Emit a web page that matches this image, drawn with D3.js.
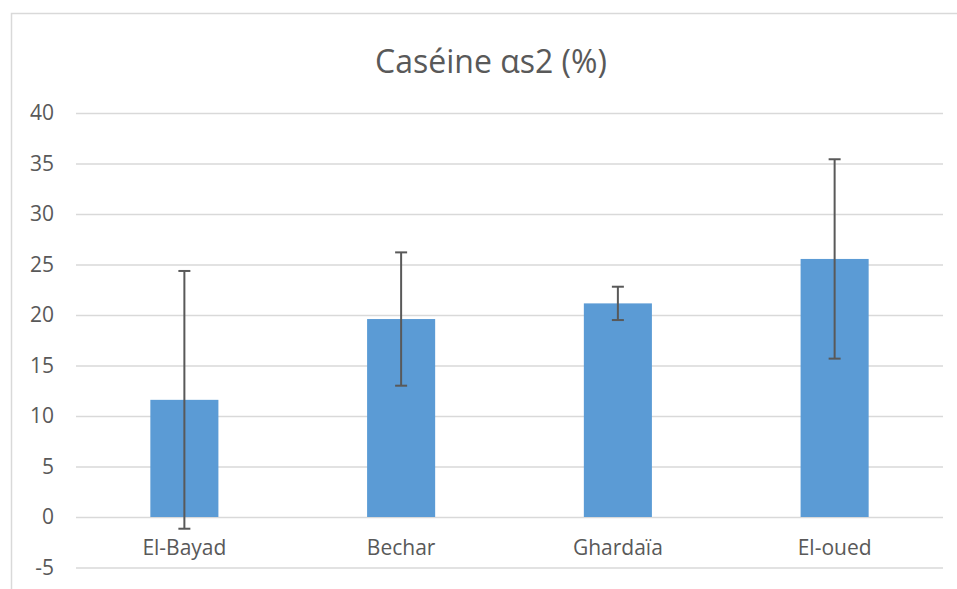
<!DOCTYPE html>
<html>
<head>
	<meta charset="utf-8">
	<style type="text/css">
		body{
			margin: 0;
			background-color: white;
		}
		svg text{
			font-family: 'Open Sans', sans-serif;
			fill: #595959;
		}
	</style>
	<title>Caséine αs2</title>
	<script src="https://cdn.jsdelivr.net/npm/d3@7"></script>
</head>
<body>
	<div id="chart"></div>

	<script type="text/javascript">
		const regions = ['El-Bayad', 'Bechar', 'Ghardaïa', 'El-oued'];
		const means = [11.6, 19.6, 21.15, 25.55];
		const errors = [12.76, 6.6, 1.65, 9.87];
		const yTicks = [-5, 0, 5, 10, 15, 20, 25, 30, 35, 40];

		const [w, h] = [957, 589];
		const [padL, padR, padT, padB] = [76, 943, 113, 567.5];

		const svg = d3.select('#chart')
			.append('svg')
			.attr('width', w)
			.attr('height', h);

		// chart frame
		svg.append('rect')
			.attr('x', 11.5)
			.attr('y', 13.5)
			.attr('width', 1000)
			.attr('height', 1000)
			.attr('fill', 'white')
			.attr('stroke', '#d9d9d9')
			.attr('stroke-width', 1.5);

		const xScale = d3.scaleBand()
			.domain(regions)
			.range([padL, padR])
			.padding(0);
		const yScale = d3.scaleLinear()
			.domain([-5, 40])
			.range([padB, padT]);

		const barW = xScale.bandwidth() * 0.314;

		// gridlines + y labels
		const yAxis = d3.axisLeft(yScale)
			.tickValues(yTicks)
			.tickFormat(d => String(d))
			.tickSize(-(padR - padL))
			.tickPadding(22);
		svg.append('g')
			.attr('id', 'y-axis')
			.attr('transform', `translate(${padL},0)`)
			.call(yAxis)
			.call(g => g.select('.domain').remove())
			.call(g => g.selectAll('.tick line')
				.attr('stroke', '#d9d9d9')
				.attr('stroke-width', 1.5))
			.call(g => g.selectAll('.tick text')
				.attr('font-size', 21)
				.attr('fill', '#595959'));

		svg.selectAll('.bar')
			.data(regions)
			.enter()
			.append('rect')
			.attr('class', 'bar')
			.attr('x', d => xScale(d) + (xScale.bandwidth() - barW) / 2)
			.attr('width', barW)
			.attr('y', (d, i) => yScale(means[i]))
			.attr('height', (d, i) => yScale(0) - yScale(means[i]))
			.attr('fill', '#5b9bd5');

		// error bars
		const eb = svg.selectAll('.err')
			.data(regions)
			.enter()
			.append('g')
			.attr('class', 'err')
			.attr('stroke', '#595959')
			.attr('stroke-width', 2);
		const cx = d => xScale(d) + xScale.bandwidth() / 2;
		eb.append('line')
			.attr('x1', cx).attr('x2', cx)
			.attr('y1', (d, i) => yScale(means[i] + errors[i]))
			.attr('y2', (d, i) => yScale(means[i] - errors[i]));
		eb.append('line')
			.attr('x1', d => cx(d) - 6).attr('x2', d => cx(d) + 6)
			.attr('y1', (d, i) => yScale(means[i] + errors[i]))
			.attr('y2', (d, i) => yScale(means[i] + errors[i]));
		eb.append('line')
			.attr('x1', d => cx(d) - 6).attr('x2', d => cx(d) + 6)
			.attr('y1', (d, i) => yScale(means[i] - errors[i]))
			.attr('y2', (d, i) => yScale(means[i] - errors[i]));

		// category labels
		svg.selectAll('.cat')
			.data(regions)
			.enter()
			.append('text')
			.attr('class', 'cat')
			.attr('x', cx)
			.attr('y', yScale(0) + 38)
			.attr('text-anchor', 'middle')
			.attr('font-size', 21)
			.text(d => d);

		svg.append('text')
			.attr('x', 491)
			.attr('y', 73)
			.attr('text-anchor', 'middle')
			.attr('font-size', 32)
			.text('Caséine αs2 (%)');
	</script>
</body>
</html>
